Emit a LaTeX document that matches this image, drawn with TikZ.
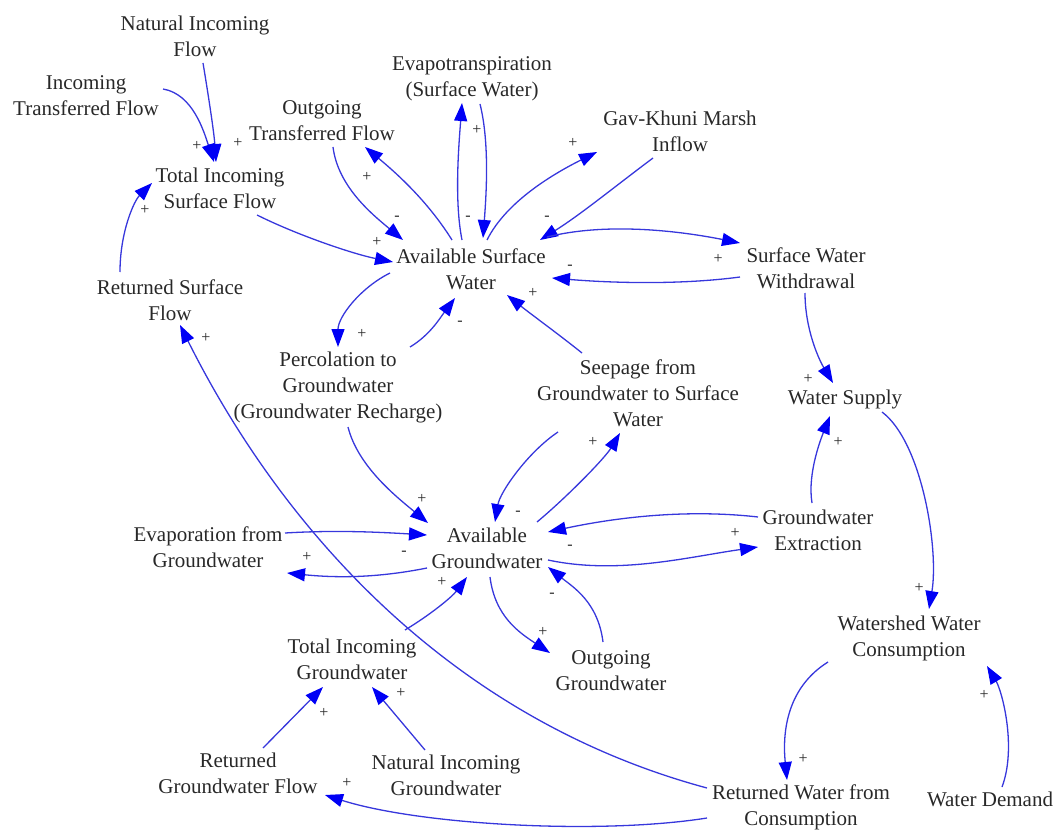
\documentclass[tikz,border=0pt]{standalone}
\usepackage{fontspec}
\setmainfont{Liberation Serif}
\usetikzlibrary{arrows.meta,calc}
\definecolor{linkblue}{RGB}{55,55,220}
\definecolor{tipblue}{RGB}{0,0,245}
\definecolor{txt}{RGB}{40,40,40}
\begin{document}
\begin{tikzpicture}[x=1pt,y=-1pt,
  var/.style={align=center,font=\fontsize{21}{26}\selectfont,text=txt,inner sep=0pt},
  link/.style={draw=linkblue,line width=1.3pt,-{Triangle[length=18pt,width=13pt,color=tipblue]}},
  pol/.style={font=\fontsize{16}{16}\selectfont,text=txt,inner sep=0pt}]
\useasboundingbox (0,0) rectangle (1059,834);

% variables
\node[var] (nif)  at (195,36)  {Natural Incoming\\Flow};
\node[var] (itf)  at (86,96)   {Incoming\\Transferred Flow};
\node[var] (tisf) at (220,188) {Total Incoming\\Surface Flow};
\node[var] (otf)  at (322,121) {Outgoing\\Transferred Flow};
\node[var] (evs)  at (472,79)  {Evapotranspiration\\(Surface Water)};
\node[var] (gkm)  at (680,131) {Gav-Khuni Marsh\\Inflow};
\node[var] (asw)  at (471,269) {Available Surface\\Water};
\node[var] (sww)  at (806,268) {Surface Water\\Withdrawal};
\node[var] (rsf)  at (170,300) {Returned Surface\\Flow};
\node[var] (pgw)  at (338,387) {Percolation to\\Groundwater\\(Groundwater Recharge)};
\node[var] (sgsw) at (638,393) {Seepage from\\Groundwater to Surface\\Water};
\node[var] (ws)   at (845,399) {Water Supply};
\node[var] (agw)  at (487,548) {Available\\Groundwater};
\node[var] (efg)  at (208,547) {Evaporation from\\Groundwater};
\node[var] (ge)   at (818,530) {Groundwater\\Extraction};
\node[var] (tig)  at (352,659) {Total Incoming\\Groundwater};
\node[var] (og)   at (611,671) {Outgoing\\Groundwater};
\node[var] (wwc)  at (909,638) {Watershed Water\\Consumption};
\node[var] (rgf)  at (238,773) {Returned\\Groundwater Flow};
\node[var] (nig)  at (446,775) {Natural Incoming\\Groundwater};
\node[var] (rwc)  at (801,807) {Returned Water from\\Consumption};
\node[var] (wd)   at (990,799) {Water Demand};

% causal links
\draw[link] ($(nif)+(8,27)$) .. controls +(5,30) and +(-2,-30) .. ($(tisf)+(-4,-26)$);
\draw[link] ($(itf)+(77,-7)$) .. controls +(30,5) and +(-10,-30) .. ($(tisf)+(-6,-26)$);
\draw[link] ($(rsf)+(-50,-28)$) .. controls +(0,-40) and +(-18,18) .. ($(tisf)+(-68,-5)$);
\draw[link] ($(tisf)+(37,27)$) .. controls +(40,20) and +(-40,-8) .. ($(asw)+(-78,-7)$);
\draw[link] ($(otf)+(11,26)$) .. controls +(5,40) and +(-30,-25) .. ($(asw)+(-68,-29)$);
\draw[link] ($(asw)+(-19,-29)$) .. controls +(-25,-40) and +(30,25) .. ($(otf)+(43,26)$);
\draw[link] ($(asw)+(-9,-29)$) .. controls +(-8,-40) and +(-3,40) .. ($(evs)+(-10,24)$);
\draw[link] ($(evs)+(8,25)$) .. controls +(10,40) and +(3,-40) .. ($(asw)+(12,-31)$);
\draw[link] ($(asw)+(16,-29)$) .. controls +(20,-40) and +(-40,20) .. ($(gkm)+(-83,21)$);
\draw[link] ($(gkm)+(-27,27)$) .. controls +(-40,30) and +(40,-25) .. ($(asw)+(69,-29)$);
\draw[link] ($(asw)+(76,-32)$) .. controls +(60,-15) and +(-60,-12) .. ($(sww)+(-66,-25)$);
\draw[link] ($(sww)+(-66,9)$) .. controls +(-60,8) and +(60,5) .. ($(asw)+(81,9)$);
\draw[link] ($(sgsw)+(-56,-40)$) .. controls +(-25,-20) and +(25,20) .. ($(asw)+(36,26)$);
\draw[link] ($(asw)+(-81,4)$) .. controls +(-30,15) and +(0,-30) .. ($(pgw)+(0,-40)$);
\draw[link] ($(pgw)+(72,-40)$) .. controls +(20,-12) and +(-15,20) .. ($(asw)+(-16,29)$);
\draw[link] ($(rwc)+(-94,-19)$) .. controls +(-260,-70) and +(100,200) .. ($(rsf)+(10,25)$);
\draw[link] ($(pgw)+(10,40)$) .. controls +(10,40) and +(-30,-25) .. ($(agw)+(-59,-25)$);
\draw[link] ($(sgsw)+(-80,39)$) .. controls +(-30,20) and +(5,-30) .. ($(agw)+(8,-26)$);
\draw[link] ($(agw)+(50,-26)$) .. controls +(30,-25) and +(-15,25) .. ($(sgsw)+(-18,40)$);
\draw[link] ($(ge)+(-60,-13)$) .. controls +(-70,-8) and +(70,-15) .. ($(agw)+(61,-16)$);
\draw[link] ($(agw)+(61,12)$) .. controls +(70,15) and +(-70,10) .. ($(ge)+(-60,17)$);
\draw[link] ($(ge)+(-6,-27)$) .. controls +(-5,-30) and +(-8,20) .. ($(ws)+(-15,17)$);
\draw[link] ($(sww)+(-1,25)$) .. controls +(0,35) and +(-15,-25) .. ($(ws)+(-12,-16)$);
\draw[link] ($(ws)+(37,13)$) .. controls +(40,30) and +(10,-60) .. ($(wwc)+(20,-29)$);
\draw[link] ($(efg)+(77,-14)$) .. controls +(50,-3) and +(-50,-3) .. ($(agw)+(-60,-13)$);
\draw[link] ($(agw)+(-60,20)$) .. controls +(-50,10) and +(50,5) .. ($(efg)+(79,26)$);
\draw[link] ($(tig)+(53,-29)$) .. controls +(25,-15) and +(-15,20) .. ($(agw)+(-20,29)$);
\draw[link] ($(agw)+(3,29)$) .. controls +(5,40) and +(-30,-20) .. ($(og)+(-61,-18)$);
\draw[link] ($(og)+(-8,-29)$) .. controls +(-5,-40) and +(25,20) .. ($(agw)+(61,19)$);
\draw[link] ($(rgf)+(25,-25)$) -- ($(tig)+(-29,28)$);
\draw[link] ($(nig)+(-21,-25)$) -- ($(tig)+(20,28)$);
\draw[link] ($(rwc)+(-94,11)$) .. controls +(-107,17) and +(95,30) .. ($(rgf)+(87,22)$);
\draw[link] ($(wwc)+(-81,24)$) .. controls +(-40,25) and +(-5,-50) .. ($(rwc)+(-14,-27)$);
\draw[link] ($(wd)+(12,-12)$) .. controls +(15,-40) and +(15,25) .. ($(wwc)+(78,28)$);

% link polarities
\node[pol] (p1)  at (197,146) {+};
\node[pol] (p2)  at (238,143) {+};
\node[pol] (p3)  at (145,210) {+};
\node[pol] (p4)  at (377,242) {+};
\node[pol] (p5)  at (367,177) {+};
\node[pol] (p6)  at (397,218) {-};
\node[pol] (p7)  at (477,130) {+};
\node[pol] (p8)  at (468,218) {-};
\node[pol] (p9)  at (573,143) {+};
\node[pol] (p10) at (547,218) {-};
\node[pol] (p11) at (718,259) {+};
\node[pol] (p12) at (570,267) {-};
\node[pol] (p13) at (533,293) {+};
\node[pol] (p14) at (362,334) {+};
\node[pol] (p15) at (460,323) {-};
\node[pol] (p16) at (206,338) {+};
\node[pol] (p17) at (422,499) {+};
\node[pol] (p18) at (518,513) {-};
\node[pol] (p19) at (593,442) {+};
\node[pol] (p20) at (570,547) {-};
\node[pol] (p21) at (735,533) {+};
\node[pol] (p22) at (838,442) {+};
\node[pol] (p23) at (808,379) {+};
\node[pol] (p24) at (919,588) {+};
\node[pol] (p25) at (404,553) {-};
\node[pol] (p26) at (307,557) {+};
\node[pol] (p27) at (442,582) {+};
\node[pol] (p28) at (543,632) {+};
\node[pol] (p29) at (552,595) {-};
\node[pol] (p30) at (324,713) {+};
\node[pol] (p31) at (401,693) {+};
\node[pol] (p32) at (347,783) {+};
\node[pol] (p33) at (803,759) {+};
\node[pol] (p34) at (984,695) {+};
\end{tikzpicture}
\end{document}
